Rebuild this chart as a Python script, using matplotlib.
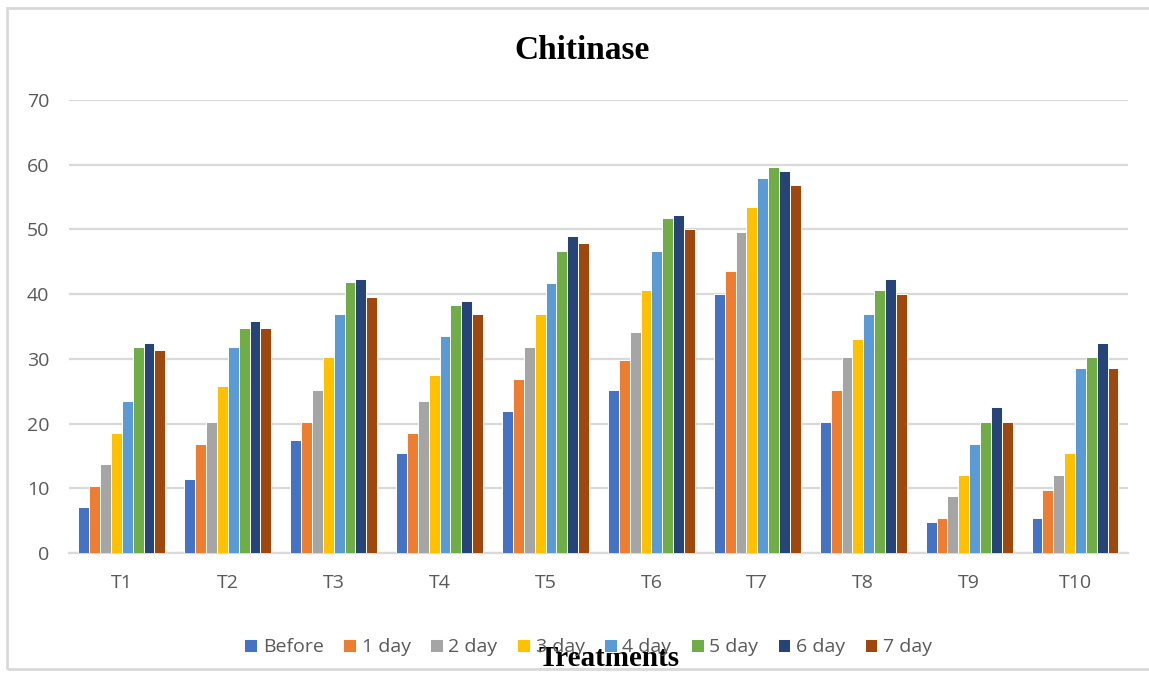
# Chitinase activity per treatment, bar chart in Excel style
import matplotlib
matplotlib.use("Agg")
import matplotlib.pyplot as plt
import matplotlib.patches as mpatches
import numpy as np

# data
treatments = ["T1", "T2", "T3", "T4", "T5", "T6", "T7", "T8", "T9", "T10"]
before = [7.1, 11.4, 17.5, 15.4, 22.0, 25.2, 40.1, 20.3, 4.8, 5.4]
day1 = [10.3, 16.9, 20.3, 18.6, 26.9, 29.8, 43.5, 25.2, 5.4, 9.7]
day2 = [13.7, 20.3, 25.2, 23.5, 31.8, 34.1, 49.6, 30.3, 8.8, 12.0]
day3 = [18.6, 25.8, 30.3, 27.5, 36.9, 40.7, 53.4, 33.0, 12.0, 15.4]
day4 = [23.5, 31.8, 36.9, 33.5, 41.8, 46.7, 57.9, 36.9, 16.9, 28.6]
day5 = [31.8, 34.7, 41.9, 38.4, 46.7, 51.8, 59.6, 40.7, 20.3, 30.3]
day6 = [32.4, 35.8, 42.4, 39.0, 49.0, 52.2, 59.0, 42.4, 22.6, 32.4]
day7 = [31.3, 34.7, 39.6, 36.9, 47.9, 50.1, 56.8, 40.1, 20.3, 28.6]

series_names = ["Before", "1 day", "2 day", "3 day", "4 day", "5 day", "6 day", "7 day"]
series = [before, day1, day2, day3, day4, day5, day6, day7]
colors = ["#4472C4", "#ED7D31", "#A5A5A5", "#FFC000",
          "#5B9BD5", "#70AD47", "#264478", "#9E480E"]

grey = "#595959"
grid_col = "#d9d9d9"

fig = plt.figure(figsize=(11.49, 6.73), dpi=100)
# light grey frame around the chart like the Excel chart area
fig.patches.append(mpatches.Rectangle((7 / 1149, 4 / 673), 1.05, 661 / 673,
                                      transform=fig.transFigure, fill=False,
                                      edgecolor=grid_col, linewidth=2))

ax = fig.add_axes([0.060, 0.1783, 0.9217, 0.6731])

x = np.arange(len(treatments))
n = len(series)
width = 0.1025
for i, (name, vals) in enumerate(zip(series_names, series)):
    offset = (i - (n - 1) / 2) * width
    ax.bar(x + offset, vals, width, color=colors[i], label=name,
           edgecolor="white", linewidth=0.7, zorder=3)

ax.set_xlim(-0.5, len(treatments) - 0.5)
ax.set_ylim(0, 70)
ax.set_yticks(range(0, 71, 10))
ax.set_xticks(x)
ax.set_xticklabels(treatments)
ax.yaxis.grid(True, color=grid_col, linewidth=1.6, zorder=0)
for side in ["top", "right", "left"]:
    ax.spines[side].set_visible(False)
ax.spines["bottom"].set_color(grid_col)
ax.spines["bottom"].set_linewidth(1.6)
ax.tick_params(axis="both", length=0, colors=grey, labelsize=14)
ax.tick_params(axis="x", pad=15)
ax.tick_params(axis="y", pad=14)
for lab in ax.get_xticklabels() + ax.get_yticklabels():
    lab.set_fontfamily("Open Sans")

fig.text(0.507, 0.925, "Chitinase", ha="center", va="center",
         fontsize=24, fontweight="bold", family="Liberation Serif")

leg = fig.legend(loc="center", bbox_to_anchor=(0.512, 0.038), ncol=8,
                 frameon=False, handlelength=0.65, handleheight=0.65,
                 handletextpad=0.3, columnspacing=1.0,
                 prop={"family": "Open Sans", "size": 14})
for t in leg.get_texts():
    t.set_color(grey)

# axis title sits over the legend, as in the original chart
fig.text(0.53, 0.022, "Treatments", ha="center", va="center",
         fontsize=21, fontweight="bold", family="Liberation Serif")

fig.savefig("out.png", dpi=100)
